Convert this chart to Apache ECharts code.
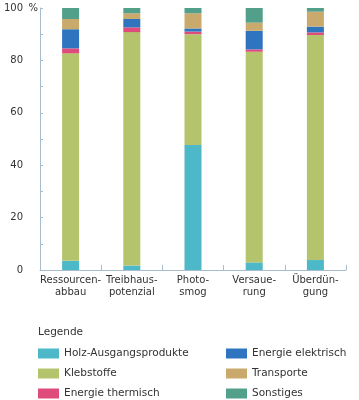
<!DOCTYPE html>
<html><head><meta charset="utf-8">
<script src="https://cdn.jsdelivr.net/npm/echarts@6/dist/echarts.min.js"></script>
<style>html,body{margin:0;padding:0;background:#fff}#c{width:359px;height:400px}</style>
</head><body><div id="c"></div>
<script>
const categories = ['Ressourcen-\nabbau','Treibhaus-\npotenzial','Photo-\nsmog','Versaue-\nrung','Überdün-\ngung'];
const yTicks = [0,20,40,60,80,100];
const unitLabel = '%';
const holz = [3.5, 1.7, 47.7, 2.9, 3.8];
const kleb = [79.2, 89.1, 42.3, 80.4, 85.9];
const thermisch = [1.9, 1.8, 1.0, 0.9, 1.0];
const elektrisch = [7.3, 3.2, 1.2, 7.1, 2.2];
const transporte = [3.9, 2.2, 5.8, 3.1, 5.7];
const sonstiges = [4.2, 2.0, 2.0, 5.6, 1.4];
const seriesNames = ['Holz-Ausgangsprodukte','Klebstoffe','Energie thermisch','Energie elektrisch','Transporte','Sonstiges'];
const seriesData = [holz, kleb, thermisch, elektrisch, transporte, sonstiges];
const colors = ['#4db8c8','#b4c46c','#df4b7b','#2e74bf','#c9aa6c','#52a08a'];

const font = 'DejaVu Sans';
const yMin = yTicks[0], yMax = yTicks[yTicks.length-1];
const chart = echarts.init(document.getElementById('c'));
const legendBase = {orient:'vertical', top:348, itemWidth:21, itemHeight:10, itemGap:9, padding:0, height:60,
  icon:'rect', textStyle:{fontSize:10.5, color:'#333', fontFamily:font}};
chart.setOption({
  animation:false,
  color: colors,
  textStyle:{fontFamily:font},
  title:{text:'Legende', left:38, top:327, padding:0, textStyle:{fontSize:10.5, fontWeight:'normal', color:'#333', fontFamily:font}},
  legend:[
    Object.assign({}, legendBase, {data:seriesNames.slice(0,3), left:38}),
    Object.assign({}, legendBase, {data:seriesNames.slice(3), left:226})
  ],
  grid:{left:40, right:13, top:8, bottom:130, outerBoundsMode:'none', containLabel:false},
  xAxis:{type:'category', data:categories,
    axisLine:{lineStyle:{color:'#a9bccb'}},
    axisTick:{show:true, inside:true, length:5, lineStyle:{color:'#a9bccb'}},
    axisLabel:{color:'#333', fontSize:10, fontFamily:font, margin:4, lineHeight:12, interval:0}},
  yAxis:[{type:'value', min:yMin, max:yMax, interval:20,
    axisLine:{show:true, lineStyle:{color:'#a9bccb'}},
    axisTick:{show:true, inside:true, length:3, lineStyle:{color:'#a9bccb'}},
    minorTick:{show:true, splitNumber:2, length:3, lineStyle:{color:'#a9bccb'}},
    splitLine:{show:false},
    axisLabel:{color:'#333', fontSize:10, fontFamily:font, margin:17}},
   {type:'value', position:'left', offset:0, min:yMin, max:yMax, interval:yMax-yMin,
    axisLine:{show:false}, axisTick:{show:false}, splitLine:{show:false},
    axisLabel:{color:'#333', fontSize:10, fontFamily:font, margin:2,
      formatter: v => v === yMax ? unitLabel : ''}}],
  series: seriesNames.map((n,i)=>({name:n, type:'bar', stack:'a', barWidth:17, yAxisIndex:0, data:seriesData[i]}))
});
</script></body></html>
